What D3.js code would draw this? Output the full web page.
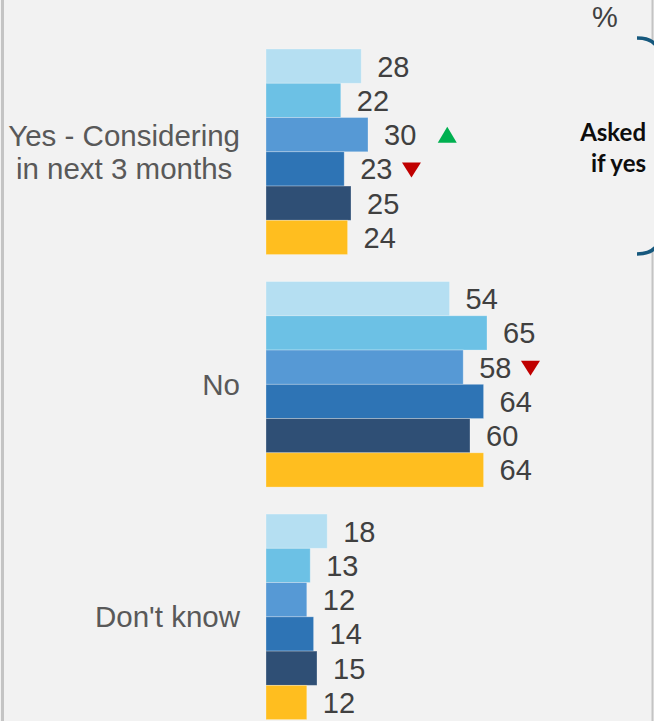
<!DOCTYPE html>
<html>
<head>
<meta charset="utf-8">
<script src="https://cdn.jsdelivr.net/npm/d3@7"></script>
<style>
  html, body { margin: 0; padding: 0; background: #f2f2f2; }
  svg { display: block; }
</style>
</head>
<body>
<svg id="chart" width="654" height="721"></svg>
<script>
// Response categories (y groups), one label line per array entry
const categories = ["yes", "no", "dk"];
const categoryLabels = [["Yes - Considering", "in next 3 months"], ["No"], ["Don't know"]];

// Six survey waves, drawn top to bottom inside each group
const waves = ["Wave 1", "Wave 2", "Wave 3", "Wave 4", "Wave 5", "Wave 6"];
const waveColors = ["#b5dff2", "#6cc1e5", "#5699d5", "#2e74b5", "#2f4f75", "#ffbe1f"];

// Percentages per wave
const yesValues = [28, 22, 30, 23, 25, 24];
const noValues = [54, 65, 58, 64, 60, 64];
const dkValues = [18, 13, 12, 14, 15, 12];

// Significant change markers: category, wave, direction
const markerCats = ["yes", "yes", "no"];
const markerWaves = ["Wave 3", "Wave 4", "Wave 3"];
const markerDirs = ["up", "down", "down"];

const valuesByCat = { yes: yesValues, no: noValues, dk: dkValues };

const svg = d3.select("#chart");
const W = 654, H = 721;

svg.append("rect").attr("width", W).attr("height", H).attr("fill", "#f2f2f2");

// frame lines
svg.append("line").attr("x1", 2.5).attr("x2", 2.5).attr("y1", 0).attr("y2", H)
  .attr("stroke", "#c4c4c4").attr("stroke-width", 3);
svg.append("line").attr("x1", 652.5).attr("x2", 652.5).attr("y1", 0).attr("y2", 40)
  .attr("stroke", "#c4c4c4").attr("stroke-width", 2);
svg.append("line").attr("x1", 652.5).attr("x2", 652.5).attr("y1", 252).attr("y2", H)
  .attr("stroke", "#c4c4c4").attr("stroke-width", 2);

const x = d3.scaleLinear().domain([0, 100]).range([266, 606]);
const y0 = d3.scaleBand().domain(categories).range([49, 719.6]).paddingInner(0.116).paddingOuter(0);
const y1 = d3.scaleBand().domain(waves).range([0, y0.bandwidth()]).padding(0);

const groups = svg.selectAll("g.grp")
  .data(categories)
  .join("g")
  .attr("class", "grp")
  .attr("transform", d => `translate(0,${y0(d)})`);

const rows = (c) => waves.map((w, i) => ({ cat: c, wave: w, value: valuesByCat[c][i], color: waveColors[i] }));

groups.selectAll("rect.bar")
  .data(c => rows(c))
  .join("rect")
  .attr("class", "bar")
  .attr("x", x(0))
  .attr("y", d => y1(d.wave))
  .attr("width", d => x(d.value) - x(0))
  .attr("height", y1.bandwidth())
  .attr("fill", d => d.color)
  .attr("stroke", "rgba(255,255,255,0.35)")
  .attr("stroke-width", 0.8);

const labelFont = "'Liberation Sans', Arial, sans-serif";

const valueLabels = groups.selectAll("text.val")
  .data(c => rows(c))
  .join("text")
  .attr("class", "val")
  .attr("x", d => x(d.value) + 16)
  .attr("y", d => y1(d.wave) + y1.bandwidth() / 2)
  .attr("dy", "0.36em")
  .attr("font-family", labelFont)
  .attr("font-size", 29)
  .attr("fill", "#404040")
  .text(d => d.value);

// significance triangles after the value labels
markerCats.forEach((c, i) => {
  const w = markerWaves[i];
  const idx = waves.indexOf(w);
  const v = valuesByCat[c][idx];
  const label = valueLabels.filter(d => d.cat === c && d.wave === w).node();
  const textEnd = x(v) + 16 + label.getComputedTextLength();
  const up = markerDirs[i] === "up";
  const cx = textEnd + (up ? 31 : 19);
  const cy = y0(c) + y1(w) + y1.bandwidth() / 2 + (up ? 0 : 1);
  const hw = 9.5, hh = up ? 8 : 7.5;
  const pts = up
    ? [[cx - hw, cy + hh], [cx + hw, cy + hh], [cx, cy - hh]]
    : [[cx - hw, cy - hh], [cx + hw, cy - hh], [cx, cy + hh]];
  svg.append("path")
    .attr("d", d3.line()(pts) + "Z")
    .attr("fill", up ? "#00b050" : "#c00000");
});

// category labels: block right-aligned, lines centred within block
groups.each(function (c, i) {
  const g = d3.select(this);
  const lines = categoryLabels[i];
  const right = 240, lh = 33;
  const cy = y0.bandwidth() / 2;
  const t = g.append("text")
    .attr("font-family", labelFont)
    .attr("font-size", 29.5)
    .attr("fill", "#595959");
  const spans = lines.map((s, k) => t.append("tspan")
    .attr("y", cy + (k - (lines.length - 1) / 2) * lh)
    .attr("dy", "0.36em")
    .text(s));
  const widths = spans.map(sp => sp.node().getComputedTextLength());
  const maxW = d3.max(widths);
  spans.forEach(sp => sp.attr("x", right - maxW / 2).attr("text-anchor", "middle"));
});

// unit
svg.append("text")
  .attr("x", 605).attr("y", 27)
  .attr("text-anchor", "middle")
  .attr("font-family", labelFont)
  .attr("font-size", 29)
  .attr("fill", "#404040")
  .text("%");

// bracket for the follow-up note
svg.append("path")
  .attr("d", "M637,38 Q661,38 661,62 L661,230 Q661,254 637,254")
  .attr("fill", "none")
  .attr("stroke", "#16587d")
  .attr("stroke-width", 3.5);

const note = svg.append("text")
  .attr("text-anchor", "end")
  .attr("font-family", "Lato, 'Open Sans', sans-serif")
  .attr("font-weight", "bold")
  .attr("font-size", 24)
  .attr("fill", "#0d0d0d");
note.append("tspan").attr("x", 646).attr("y", 141).text("Asked");
note.append("tspan").attr("x", 646).attr("y", 172).text("if yes");
</script>
</body>
</html>
